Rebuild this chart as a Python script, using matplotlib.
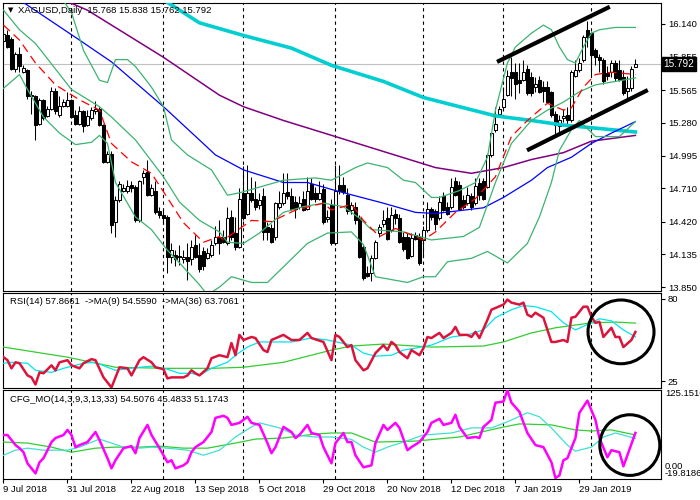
import matplotlib
matplotlib.use("Agg")
import matplotlib.pyplot as plt
import matplotlib.transforms as mtrans
from matplotlib.patches import Ellipse

plt.rcParams['font.family'] = ['Liberation Sans', 'DejaVu Sans']

# ---------------------
# PRICE DATA  (daily bars, bar 0 = 9 Jul 2018)
# ---------------------
opens = [15.99, 16.04, 16.01, 15.75, 15.88, 15.72, 15.74, 15.52, 15.51, 15.27,
         15.48, 15.34, 15.40, 15.56, 15.35, 15.43, 15.43, 15.48, 15.35, 15.27,
         15.38, 15.26, 15.32, 15.38, 15.40, 15.26, 14.94, 15.01, 14.42, 14.61,
         14.69, 14.69, 14.74, 14.72, 14.43, 14.81, 14.85, 14.65, 14.69, 14.51,
         14.48, 14.46, 14.11, 14.13, 14.12, 14.09, 14.11, 14.09, 14.22, 14.13,
         14.16, 14.10, 14.13, 14.23, 14.29, 14.29, 14.23, 14.46, 14.32, 14.20,
         14.67, 14.49, 14.67, 14.62, 14.56, 14.64, 14.37, 14.36, 14.29, 14.55,
         14.58, 14.68, 14.64, 14.59, 14.55, 14.62, 14.53, 14.75, 14.67, 14.62,
         14.70, 14.44, 14.56, 14.23, 14.74, 14.74, 14.65, 14.52, 14.55, 14.45,
         14.20, 13.97, 13.97, 14.10, 14.32, 14.40, 14.45, 14.35, 14.49, 14.45,
         14.29, 14.29, 14.12, 14.30, 14.29, 14.26, 14.35, 14.53, 14.51, 14.45,
         14.64, 14.55, 14.55, 14.77, 14.74, 14.61, 14.58, 14.64, 14.58, 14.76,
         14.77, 14.72, 15.00, 15.22, 15.36, 15.42, 15.52, 15.72, 15.72, 15.65,
         15.65, 15.75, 15.68, 15.59, 15.65, 15.59, 15.59, 15.55, 15.36, 15.25,
         15.32, 15.35, 15.30, 15.69, 15.74, 15.83, 16.09, 16.06, 15.91, 15.85,
         15.83, 15.71, 15.72, 15.80, 15.74, 15.68, 15.56, 15.58, 15.768]
highs = [16.10, 16.09, 16.03, 15.90, 15.94, 15.78, 15.75, 15.56, 15.52, 15.50,
         15.49, 15.43, 15.59, 15.58, 15.51, 15.49, 15.55, 15.49, 15.39, 15.43,
         15.39, 15.39, 15.42, 15.47, 15.42, 15.27, 15.03, 15.03, 14.64, 14.77,
         14.75, 14.78, 14.77, 14.74, 14.78, 14.87, 14.96, 14.75, 14.77, 14.55,
         14.52, 14.48, 14.23, 14.17, 14.22, 14.17, 14.23, 14.26, 14.30, 14.23,
         14.20, 14.19, 14.26, 14.38, 14.43, 14.35, 14.55, 14.52, 14.46, 14.71,
         14.90, 14.91, 14.81, 14.77, 14.67, 14.71, 14.42, 14.40, 14.59, 14.69,
         14.84, 14.84, 14.71, 14.64, 14.64, 14.69, 14.81, 14.80, 14.72, 14.77,
         14.75, 14.52, 14.62, 14.91, 14.91, 14.81, 14.71, 14.59, 14.59, 14.48,
         14.22, 14.03, 14.13, 14.26, 14.40, 14.52, 14.55, 14.55, 14.53, 14.49,
         14.33, 14.32, 14.32, 14.33, 14.32, 14.38, 14.59, 14.55, 14.53, 14.64,
         14.68, 14.59, 14.80, 14.81, 14.77, 14.65, 14.72, 14.67, 14.80, 14.80,
         14.80, 15.01, 15.20, 15.42, 15.43, 15.59, 15.74, 15.85, 15.80, 15.80,
         15.83, 15.78, 15.72, 15.68, 15.69, 15.64, 15.64, 15.56, 15.38, 15.35,
         15.40, 15.42, 15.74, 15.83, 15.84, 16.04, 16.17, 16.07, 15.93, 15.88,
         15.84, 15.77, 15.83, 15.83, 15.83, 15.74, 15.69, 15.77, 15.838]
lows = [15.98, 15.93, 15.74, 15.72, 15.72, 15.71, 15.49, 15.36, 15.13, 15.26,
        15.30, 15.33, 15.39, 15.36, 15.33, 15.42, 15.42, 15.32, 15.26, 15.26,
        15.20, 15.25, 15.30, 15.36, 15.25, 14.93, 14.93, 14.32, 14.29, 14.59,
        14.68, 14.67, 14.68, 14.42, 14.42, 14.75, 14.64, 14.64, 14.49, 14.45,
        14.40, 13.97, 14.06, 14.03, 14.04, 14.06, 13.91, 14.04, 14.10, 13.98,
        14.00, 14.09, 14.11, 14.22, 14.14, 14.23, 14.22, 14.26, 14.17, 14.19,
        14.43, 14.48, 14.59, 14.52, 14.53, 14.26, 14.26, 14.23, 14.26, 14.53,
        14.56, 14.62, 14.52, 14.45, 14.53, 14.51, 14.52, 14.61, 14.59, 14.61,
        14.40, 14.42, 14.22, 14.22, 14.66, 14.66, 14.49, 14.49, 14.40, 14.10,
        13.91, 13.94, 13.90, 14.09, 14.29, 14.37, 14.26, 14.33, 14.40, 14.23,
        14.16, 14.09, 14.11, 14.26, 14.04, 14.11, 14.33, 14.43, 14.35, 14.43,
        14.51, 14.48, 14.53, 14.64, 14.52, 14.53, 14.56, 14.52, 14.56, 14.61,
        14.61, 14.71, 14.98, 15.20, 15.33, 15.40, 15.51, 15.51, 15.49, 15.54,
        15.64, 15.52, 15.51, 15.55, 15.54, 15.46, 15.45, 15.33, 15.17, 15.17,
        15.29, 15.25, 15.29, 15.68, 15.72, 15.81, 15.94, 15.69, 15.78, 15.72,
        15.62, 15.65, 15.68, 15.64, 15.64, 15.52, 15.49, 15.56, 15.762]
closes = [16.05, 15.94, 15.75, 15.88, 15.77, 15.76, 15.51, 15.51, 15.26, 15.48,
          15.32, 15.40, 15.56, 15.38, 15.43, 15.46, 15.48, 15.33, 15.27, 15.38,
          15.25, 15.34, 15.39, 15.40, 15.26, 14.94, 15.01, 14.39, 14.61, 14.75,
          14.71, 14.73, 14.71, 14.43, 14.77, 14.84, 14.65, 14.71, 14.50, 14.48,
          14.45, 14.11, 14.17, 14.09, 14.11, 14.11, 14.08, 14.20, 14.11, 14.01,
          14.03, 14.15, 14.22, 14.29, 14.23, 14.24, 14.45, 14.29, 14.20, 14.62,
          14.45, 14.67, 14.61, 14.55, 14.61, 14.33, 14.33, 14.24, 14.58, 14.58,
          14.67, 14.64, 14.53, 14.53, 14.58, 14.52, 14.69, 14.62, 14.62, 14.67,
          14.42, 14.46, 14.23, 14.69, 14.69, 14.68, 14.51, 14.56, 14.43, 14.11,
          13.93, 13.95, 14.10, 14.24, 14.37, 14.43, 14.27, 14.48, 14.45, 14.24,
          14.18, 14.10, 14.28, 14.27, 14.06, 14.35, 14.53, 14.46, 14.40, 14.59,
          14.52, 14.49, 14.72, 14.65, 14.53, 14.55, 14.65, 14.55, 14.73, 14.65,
          14.62, 15.00, 15.19, 15.27, 15.40, 15.49, 15.69, 15.67, 15.62, 15.63,
          15.72, 15.54, 15.54, 15.62, 15.55, 15.56, 15.46, 15.35, 15.26, 15.30,
          15.34, 15.30, 15.72, 15.74, 15.80, 16.03, 16.03, 15.87, 15.85, 15.83,
          15.64, 15.69, 15.80, 15.67, 15.65, 15.54, 15.58, 15.75, 15.792]

last_price = 15.792

# moving averages / bollinger bands (bar index, price)
ma_red_x = [0, 4, 8, 13, 19, 24, 27, 32, 37, 40, 45, 50, 54, 55, 62, 67, 73, 80, 82,
            87, 90, 94, 98, 105, 108, 113, 118, 123, 127, 131, 136, 140, 142, 145,
            148, 152, 158]
ma_red_y = [16.13, 16.00, 15.80, 15.61, 15.48, 15.39, 15.10, 14.94, 14.84, 14.68,
            14.41, 14.24, 14.29, 14.26, 14.43, 14.42, 14.52, 14.58, 14.52, 14.57,
            14.43, 14.29, 14.36, 14.26, 14.33, 14.50, 14.62, 14.81, 15.16, 15.30,
            15.45, 15.39, 15.41, 15.59, 15.70, 15.72, 15.70]

bb_up_x = [14, 17, 20, 24, 26, 28, 31, 33, 37, 40, 42, 46, 52, 54, 56, 59, 64, 70,
           78, 82, 88, 91, 96, 100, 103, 107, 109, 114, 118, 121, 123, 126, 128,
           132, 135, 137, 139, 141, 143, 145, 147, 149, 153, 158]
bb_up_y = [16.39, 16.24, 15.91, 15.65, 15.63, 15.83, 15.83, 15.77, 15.59, 15.42,
           15.13, 15.00, 14.87, 14.76, 14.65, 14.67, 14.72, 14.78, 14.80, 14.78,
           14.89, 14.93, 14.89, 14.78, 14.76, 14.63, 14.63, 14.69, 14.76, 14.98,
           15.39, 15.80, 15.94, 16.06, 16.13, 16.09, 15.94, 15.83, 15.80, 15.94,
           16.06, 16.09, 16.11, 16.11]
bb_mid_x = [0, 4, 8, 17, 24, 27, 33, 40, 44, 49, 54, 56, 60, 64, 70, 75, 80, 85, 89,
            92, 100, 105, 107, 115, 119, 123, 127, 132, 136, 140, 144, 148, 153, 158]
bb_mid_y = [16.26, 16.09, 15.97, 15.57, 15.42, 15.33, 15.13, 14.81, 14.59, 14.43,
            14.33, 14.24, 14.23, 14.32, 14.50, 14.55, 14.58, 14.55, 14.45, 14.35,
            14.33, 14.28, 14.26, 14.29, 14.37, 14.76, 15.10, 15.30, 15.39, 15.46,
            15.55, 15.61, 15.64, 15.67]
bb_lo_x = [0, 4, 6, 10, 14, 18, 22, 24, 26, 28, 33, 37, 41, 44, 49, 51, 54, 57, 62,
           66, 71, 76, 81, 87, 90, 93, 101, 105, 108, 111, 117, 121, 126, 131, 134,
           137, 139, 142, 144, 148, 154, 158]
bb_lo_y = [15.58, 15.70, 15.57, 15.33, 15.19, 15.09, 15.11, 15.17, 15.10, 14.76,
           14.46, 14.35, 14.17, 14.06, 13.87, 13.78, 13.85, 13.94, 13.89, 13.89,
           14.06, 14.23, 14.32, 14.33, 14.22, 13.94, 13.89, 13.94, 13.94, 14.07,
           14.10, 14.16, 14.06, 14.23, 14.46, 14.76, 15.04, 15.22, 15.30, 15.16,
           15.16, 15.29]

ma_blue_x = [4, 19, 27, 40, 49, 53, 60, 70, 76, 83, 95, 103, 108, 120, 125, 132,
             136, 142, 147, 152, 158]
ma_blue_y = [16.35, 16.00, 15.81, 15.42, 15.13, 15.00, 14.87, 14.76, 14.76, 14.69,
             14.58, 14.50, 14.49, 14.54, 14.63, 14.78, 14.89, 14.98, 15.10, 15.19,
             15.29]
ma_purple_x = [15, 21, 40, 54, 60, 70, 83, 95, 108, 117, 125, 132, 140, 147, 158]
ma_purple_y = [16.35, 16.26, 15.85, 15.52, 15.42, 15.30, 15.16, 15.03, 14.89, 14.84,
               14.89, 14.96, 15.02, 15.12, 15.17]
ma_cyan_x = [40, 49, 60, 72, 82, 95, 105, 114, 123, 132, 140, 149, 158]
ma_cyan_y = [16.35, 16.15, 16.04, 15.93, 15.78, 15.64, 15.50, 15.42, 15.34, 15.30,
             15.26, 15.23, 15.20]

# hand-drawn channel (bar index, price)
channel_top = [(123.4, 15.81), (151.6, 16.29)]
channel_bottom = [(130.9, 15.04), (161.1, 15.565)]

# ---------------------
# RSI PANEL
# ---------------------
rsi_x = [0, 1, 2, 3, 4, 6, 7, 8, 9, 10, 12, 13, 14, 16, 17, 19, 20, 22, 23, 25, 27,
         28, 29, 31, 32, 34, 35, 37, 38, 40, 41, 42, 45, 46, 47, 48, 49, 51, 52, 54,
         56, 57, 58, 59, 60, 62, 63, 65, 66, 67, 70, 72, 74, 76, 77, 80, 82, 83, 84,
         86, 87, 88, 90, 91, 93, 95, 96, 97, 98, 99, 101, 102, 104, 105, 106, 107,
         109, 110, 112, 113, 114, 116, 117, 118, 119, 121, 122, 125, 126, 127, 129,
         130, 131, 132, 133, 135, 136, 137, 138, 140, 141, 142, 143, 145, 146, 147,
         148, 149, 150, 152, 153, 154, 155, 157, 158]
rsi_y = [41.1, 39.1, 33.7, 37.7, 37.1, 29.0, 27.7, 23.0, 31.0, 30.4, 35.7, 32.4,
         37.7, 39.1, 35.7, 33.7, 37.1, 39.8, 39.1, 27.7, 21.0, 27.7, 34.4, 33.7,
         29.0, 39.1, 41.1, 37.7, 34.4, 33.1, 27.0, 27.7, 27.7, 29.0, 32.4, 30.4,
         29.0, 33.7, 40.4, 42.4, 41.1, 50.5, 42.4, 55.9, 52.5, 54.5, 53.8, 45.8,
         44.5, 52.5, 55.9, 52.5, 52.5, 57.2, 53.8, 51.2, 39.1, 55.9, 54.5, 47.8,
         49.1, 39.1, 32.4, 33.7, 43.8, 49.1, 45.8, 51.2, 49.1, 44.5, 40.4, 45.8,
         42.4, 47.1, 54.5, 53.8, 57.2, 53.8, 57.2, 61.2, 55.9, 55.9, 54.5, 57.9,
         53.8, 65.9, 72.6, 76.0, 79.3, 77.3, 76.0, 77.3, 69.3, 67.9, 70.6, 67.3,
         59.2, 51.2, 51.2, 52.5, 51.2, 67.3, 67.9, 74.6, 74.6, 67.9, 63.9, 64.6,
         54.5, 60.6, 54.5, 54.5, 47.8, 52.5, 57.87]
rsi_ma9_x = [0, 2, 6, 8, 12, 15, 20, 23, 26, 28, 34, 37, 41, 44, 47, 49, 52, 56, 58,
             61, 64, 68, 72, 77, 81, 87, 90, 93, 97, 100, 103, 107, 112, 116, 120,
             123, 127, 130, 133, 137, 140, 143, 147, 149, 152, 155, 158]
rsi_ma9_y = [37.1, 37.7, 37.1, 32.4, 31.0, 33.7, 37.1, 37.7, 34.4, 32.4, 34.4, 35.1,
             33.1, 30.4, 30.4, 29.0, 33.7, 37.7, 42.4, 47.8, 51.2, 51.2, 51.2, 53.8,
             52.5, 49.1, 43.8, 41.8, 42.4, 45.8, 47.1, 49.1, 54.5, 55.9, 59.2, 67.3,
             72.6, 75.3, 74.6, 71.3, 63.9, 59.2, 63.9, 66.6, 65.2, 59.2, 54.56]
rsi_ma36_x = [0, 16, 28, 41, 52, 60, 70, 82, 87, 95, 107, 120, 125, 132, 138, 147,
              153, 158]
rsi_ma36_y = [47.8, 41.1, 34.4, 33.7, 33.7, 34.4, 37.7, 45.8, 48.5, 49.8, 47.8, 48.5,
              51.2, 57.2, 60.6, 63.9, 64.4, 63.71]
rsi_levels = [80, 25]

# ---------------------
# CFG_MO PANEL
# ---------------------
cfg_x = [0, 1, 3, 4, 5, 6, 8, 9, 10, 12, 13, 15, 16, 17, 18, 19, 21, 23, 24, 26,
         27, 28, 30, 32, 33, 34, 36, 37, 39, 41, 42, 43, 45, 46, 47, 48, 50, 52, 53,
         55, 56, 57, 59, 61, 62, 64, 66, 67, 68, 70, 72, 73, 74, 76, 77, 79, 80, 82,
         83, 85, 86, 87, 88, 90, 92, 93, 95, 96, 98, 99, 101, 102, 104, 106, 107,
         109, 110, 112, 113, 114, 116, 118, 119, 120, 122, 123, 125, 126, 127, 129,
         131, 133, 135, 137, 138, 139, 140, 141, 143, 144, 146, 148, 149, 151, 152,
         154, 155, 156, 158]
cfg_y = [51.0, 51.0, 34.6, 29.6, 23.0, 4.9, -11.5, 6.6, 13.2, 39.5, 46.1, 51.0,
         59.3, 51.0, 31.3, 34.6, 39.5, 56.0, 42.8, 13.2, -3.3, 9.9, 29.6, 32.9,
         21.4, 46.1, 67.5, 51.0, 29.6, 6.6, 9.9, -3.3, 1.6, 6.6, 23.0, 31.3, 39.5,
         56.0, 79.0, 82.3, 79.0, 67.5, 70.8, 80.7, 70.8, 67.5, 37.9, 21.4, 31.3,
         64.2, 56.0, 46.1, 51.0, 67.5, 54.3, 51.0, 31.3, 4.9, 37.9, 54.3, 39.5,
         39.5, 18.1, -1.6, 1.6, 37.9, 67.5, 59.3, 70.8, 62.6, 26.3, 31.3, 39.5,
         56.0, 70.8, 77.4, 67.5, 70.8, 84.0, 64.2, 46.1, 47.8, 46.1, 64.2, 75.7,
         103.7, 105.4, 124.0, 103.7, 88.9, 54.3, 34.6, 31.3, 6.6, -19.0, -14.8,
         9.9, 13.2, 46.1, 87.3, 107.0, 75.7, 46.1, 14.8, 26.3, 23.0, 0.0, 18.1,
         54.51]
cfg_sig1_x = [0, 3, 6, 10, 16, 19, 24, 27, 30, 34, 37, 41, 46, 50, 54, 58, 62, 64,
              69, 73, 78, 82, 87, 90, 93, 96, 100, 105, 112, 117, 122, 126, 131, 134,
              137, 141, 143, 147, 150, 153, 158]
cfg_sig1_y = [18.1, 26.3, 29.6, 26.3, 26.3, 31.3, 44.4, 37.9, 31.3, 29.6, 31.3, 29.6,
              26.3, 18.1, 26.3, 47.8, 64.2, 70.8, 62.6, 51.0, 47.8, 47.8, 44.0, 31.3,
              23.0, 31.3, 39.5, 51.0, 54.3, 62.6, 62.6, 72.5, 87.3, 80.7, 62.6, 34.6,
              24.7, 31.3, 47.8, 54.3, 45.48]
cfg_sig2_x = [0, 6, 12, 17, 23, 28, 34, 39, 45, 51, 58, 63, 70, 78, 82, 87, 93, 103,
              114, 124, 129, 137, 143, 147, 152, 158]
cfg_sig2_y = [39.5, 37.9, 31.3, 23.0, 29.6, 31.3, 31.3, 32.9, 29.6, 29.6, 37.9, 44.4,
              46.1, 52.7, 54.3, 54.3, 39.5, 41.1, 47.8, 62.6, 69.1, 67.5, 59.3, 57.6,
              59.3, 51.17]
cfg_top, cfg_bottom = 125.1516, -19.8186

# ---------------------
# AXIS TEXT
# ---------------------
date_ticks = [0, 16, 32, 48, 64, 80, 96, 112, 128, 144]
date_labels = ["9 Jul 2018", "31 Jul 2018", "22 Aug 2018", "13 Sep 2018",
               "5 Oct 2018", "29 Oct 2018", "20 Nov 2018", "12 Dec 2018",
               "7 Jan 2019", "29 Jan 2019"]
month_starts = [17, 40, 60, 83, 105, 125, 147]
price_ticks = [16.140, 15.855, 15.565, 15.280, 14.995, 14.710, 14.420, 14.135, 13.850]

# ---------------------
# FIGURE LAYOUT (MT4 style, pixel boxes)
# ---------------------
W, H = 700, 500
fig = plt.figure(figsize=(7, 5), dpi=100)
fig.patch.set_facecolor("white")


def box(l, t, r, b):
    return [l / W, 1 - b / H, (r - l) / W, (b - t) / H]


ax1 = fig.add_axes(box(2.5, 2.5, 661, 290.5))
ax2 = fig.add_axes(box(2.5, 292.5, 661, 387.5))
ax3 = fig.add_axes(box(2.5, 389.5, 661, 478.5))

fs = 6.8
for ax in (ax1, ax2, ax3):
    ax.set_xlim(-0.25, 164.4)
    for s in ax.spines.values():
        s.set_linewidth(0.8)
        s.set_color("black")
    ax.yaxis.tick_right()
    ax.tick_params(axis="y", length=3, width=0.8, labelsize=fs, pad=2)
    for m in month_starts:
        ax.axvline(m, color="black", lw=0.8, ls=(0, (3, 3)), zorder=1)
    ax.tick_params(axis="x", bottom=False, labelbottom=False)

# ---- main price panel ----
ax1.set_ylim(13.820, 16.327)
ax1.set_yticks(price_ticks)
ax1.set_yticklabels([f"{p:.3f}" for p in price_ticks])
ax1.axhline(last_price, color="#c0c0c0", lw=0.8, zorder=0.5)

bars = range(len(closes))
ax1.vlines(bars, lows, highs, color="black", lw=0.75, zorder=2)
bottoms = [min(o, c) for o, c in zip(opens, closes)]
heights = [max(abs(c - o), 0.004) for o, c in zip(opens, closes)]
faces = ["white" if c >= o else "black" for o, c in zip(opens, closes)]
ax1.bar(bars, heights, bottom=bottoms, width=0.6, color=faces,
        edgecolor="black", linewidth=0.75, zorder=2.5)

ax1.plot(ma_cyan_x, ma_cyan_y, color="#00ced1", lw=2.6, zorder=3)
ax1.plot(ma_purple_x, ma_purple_y, color="#800080", lw=1.1, zorder=3)
ax1.plot(ma_blue_x, ma_blue_y, color="#0000ff", lw=0.9, zorder=3)
for bx, by in ((bb_up_x, bb_up_y), (bb_mid_x, bb_mid_y), (bb_lo_x, bb_lo_y)):
    ax1.plot(bx, by, color="#3cb371", lw=0.9, zorder=3)
ax1.plot(ma_red_x, ma_red_y, color="red", lw=0.9, ls=(0, (7, 4)), zorder=3)

for seg in (channel_top, channel_bottom):
    ax1.plot([seg[0][0], seg[1][0]], [seg[0][1], seg[1][1]], color="black",
             lw=3, solid_capstyle="butt", zorder=4)

tr1 = mtrans.blended_transform_factory(ax1.transAxes, ax1.transData)
ax1.text(1.004, last_price, f"{last_price:.3f}", transform=tr1, color="white",
         fontsize=fs + 0.4, va="center", ha="left", clip_on=False, zorder=10,
         bbox=dict(facecolor="black", edgecolor="black", pad=1.2))

fig.text(8 / W, 1 - 10.5 / H, "\u25bc", fontsize=5, va="center", ha="left",
         family=["DejaVu Sans"])
fig.text(18 / W, 1 - 10.5 / H, "XAGUSD,Daily  15.768 15.838 15.762 15.792",
         fontsize=fs, va="center", ha="left")

# ---- RSI panel ----
ax2.set_ylim(20.98, 84.02)
ax2.set_yticks(rsi_levels)
ax2.set_yticklabels([str(v) for v in rsi_levels])
ax2.plot(rsi_ma36_x, rsi_ma36_y, color="#32cd32", lw=0.9, zorder=3)
ax2.plot(rsi_ma9_x, rsi_ma9_y, color="#00e5ee", lw=0.9, zorder=3)
ax2.plot(rsi_x, rsi_y, color="#dc143c", lw=1.8, zorder=4)
ax2.add_patch(Ellipse((154.4, 57.9), 16.5, 42.3, fill=False, lw=2.2,
                      edgecolor="black", zorder=5))
ax2.text(7 / 658.5, 1 - 9.5 / 95, "RSI(14) 57.8661  ->MA(9) 54.5590  ->MA(36) 63.7061",
         transform=ax2.transAxes, fontsize=fs, va="center", ha="left")

# ---- CFG_MO panel ----
ax3.set_ylim(cfg_bottom, cfg_top)
ax3.set_yticks([])
tr3 = mtrans.blended_transform_factory(ax3.transAxes, ax3.transData)
ax3.text(1.006, cfg_top, f"{cfg_top:.4f}", transform=tr3, fontsize=fs,
         va="top", ha="left", clip_on=False)
ax3.text(1.006, cfg_bottom, f"{cfg_bottom:.4f}", transform=tr3, fontsize=fs,
         va="bottom", ha="left", clip_on=False)
ax3.text(1.006, 0, "0.00", transform=tr3, fontsize=fs, va="center", ha="left",
         clip_on=False)
ax3.plot(cfg_sig2_x, cfg_sig2_y, color="#32cd32", lw=0.9, zorder=3)
ax3.plot(cfg_sig1_x, cfg_sig1_y, color="#40e0d0", lw=0.9, zorder=3)
ax3.plot(cfg_x, cfg_y, color="#ff00ff", lw=1.8, zorder=4)
ax3.add_patch(Ellipse((156.6, 34.6), 15.0, 98.8, fill=False, lw=2.2,
                      edgecolor="black", zorder=5))
ax3.text(7 / 658.5, 1 - 9.5 / 89, "CFG_MO(14,3,9,3,13,33) 54.5076 45.4833 51.1743",
         transform=ax3.transAxes, fontsize=fs, va="center", ha="left")

ax3.tick_params(axis="x", bottom=True, labelbottom=True, length=3, width=0.8,
                labelsize=fs, pad=2)
ax3.set_xticks(date_ticks)
ax3.set_xticklabels(date_labels, ha="left")

fig.savefig("out.png", dpi=100, facecolor="white")
